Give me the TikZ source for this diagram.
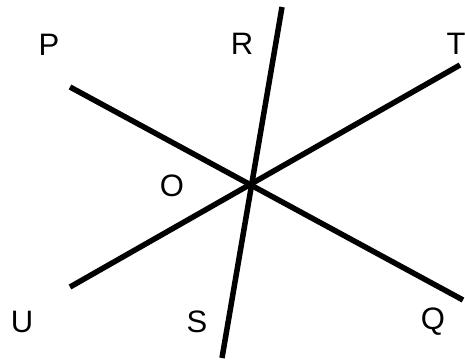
\documentclass[tikz,border=0pt]{standalone}
\usepackage{fontspec}
\setmainfont{Liberation Sans}
\begin{document}
\begin{tikzpicture}[x=1pt,y=-1pt,
  lbl/.style={font=\fontsize{31}{31}\selectfont, inner sep=0pt, anchor=center},
  ray/.style={line width=5.5pt}]
\useasboundingbox (0,0) rectangle (465,363);
\coordinate (p) at (70,87);
\coordinate (q) at (463,300);
\coordinate (r) at (282,7);
\coordinate (s) at (222,358);
\coordinate (u) at (70,287);
\coordinate (t) at (460,65);
\draw[ray] (p) -- (q);
\draw[ray] (r) -- (s);
\draw[ray] (u) -- (t);
\node[lbl] (P) at (49,45) {P};
\node[lbl] (R) at (242,44) {R};
\node[lbl] (T) at (456,44) {T};
\node[lbl] (O) at (172,186) {O};
\node[lbl] (U) at (22,322) {U};
\node[lbl] (S) at (197,322) {S};
\node[lbl] (Q) at (433,322) {Q};
\end{tikzpicture}
\end{document}
